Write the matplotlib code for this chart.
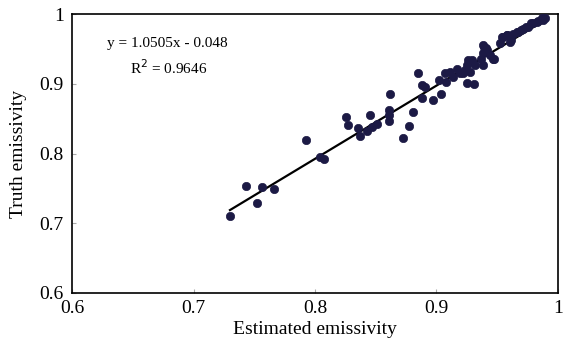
"""
Estimated vs truth emissivity scatter with linear fit.
"""

import matplotlib.pyplot as plt
import numpy as np

# Points
estimated = [
    0.730, 0.743, 0.7525, 0.756, 0.766,
    0.7926, 0.804, 0.807, 0.8255, 0.827, 0.845,
    0.8357, 0.837, 0.843, 0.847, 0.851,
    0.862, 0.861, 0.861, 0.861, 0.8727, 0.8776, 0.881, 0.885,
    0.8878, 0.8905, 0.888, 0.8974, 0.9034, 0.902,
    0.907, 0.911, 0.914, 0.9166, 0.919, 0.9235, 0.9276, 0.929, 0.9317,
    0.937, 0.9385, 0.944, 0.9467, 0.9248, 0.931, 0.908, 0.922,
    0.9248, 0.926, 0.9385, 0.941, 0.939, 0.942, 0.938,
    0.9537, 0.9578, 0.952, 0.961, 0.963, 0.966, 0.970, 0.9715,
    0.974, 0.9756, 0.978, 0.9797, 0.9825, 0.9838, 0.9866, 0.988, 0.989,
    0.947, 0.955, 0.958, 0.9605, 0.967,
]
truth = [
    0.710, 0.753, 0.729, 0.752, 0.749,
    0.819, 0.795, 0.792, 0.852, 0.841, 0.855,
    0.836, 0.825, 0.832, 0.838, 0.843,
    0.885, 0.863, 0.855, 0.846, 0.822, 0.840, 0.860, 0.915,
    0.898, 0.896, 0.879, 0.877, 0.886, 0.905,
    0.915, 0.917, 0.910, 0.922, 0.915, 0.920, 0.917, 0.934, 0.927,
    0.936, 0.927, 0.941, 0.936, 0.9015, 0.900, 0.903, 0.915,
    0.927, 0.934, 0.9556, 0.951, 0.953, 0.948, 0.944,
    0.9675, 0.970, 0.958, 0.963, 0.972, 0.975, 0.977, 0.978,
    0.982, 0.982, 0.9866, 0.9866, 0.989, 0.990, 0.9938, 0.992, 0.9938,
    0.935, 0.9675, 0.970, 0.960, 0.975,
]

# Fit reported on the chart
slope = 1.0505
intercept = -0.048
fit_range = [0.730, 0.989]

ticks = [0.6, 0.7, 0.8, 0.9, 1.0]
tick_labels = ["0.6", "0.7", "0.8", "0.9", "1"]

plt.rcParams["font.family"] = ["Liberation Serif", "DejaVu Serif"]

fig = plt.figure(figsize=(5.63, 3.45), dpi=100)
ax = fig.add_axes([0.128, 0.151, 0.863, 0.808])

fit_x = np.array(fit_range)
ax.plot(fit_x, slope * fit_x + intercept, color="black", linewidth=1.6, zorder=2)
ax.scatter(estimated, truth, s=36, color="#1c1a45", edgecolors="#1c1a45",
           linewidths=0.5, zorder=3)

ax.set_xlim(0.6, 1.0)
ax.set_ylim(0.6, 1.0)
ax.set_xticks(ticks)
ax.set_xticklabels(tick_labels)
ax.set_yticks(ticks)
ax.set_yticklabels(tick_labels)
ax.tick_params(direction="in", length=3, width=0.8, color="#aaaaaa",
               labelsize=14)
ax.tick_params(axis="x", pad=5)
ax.tick_params(axis="y", pad=6)

for spine in ax.spines.values():
    spine.set_linewidth(1.2)
    spine.set_color("black")

ax.set_xlabel("Estimated emissivity", fontsize=14, labelpad=3)
ax.set_ylabel("Truth emissivity", fontsize=14, labelpad=9)

ax.text(0.629, 0.958, "y = 1.0505x - 0.048", fontsize=11, va="center", ha="left")
ax.text(0.648, 0.9226, "R$^2$ = 0.9646", fontsize=11, va="center", ha="left")

plt.savefig("out.png", dpi=100)
plt.close()
